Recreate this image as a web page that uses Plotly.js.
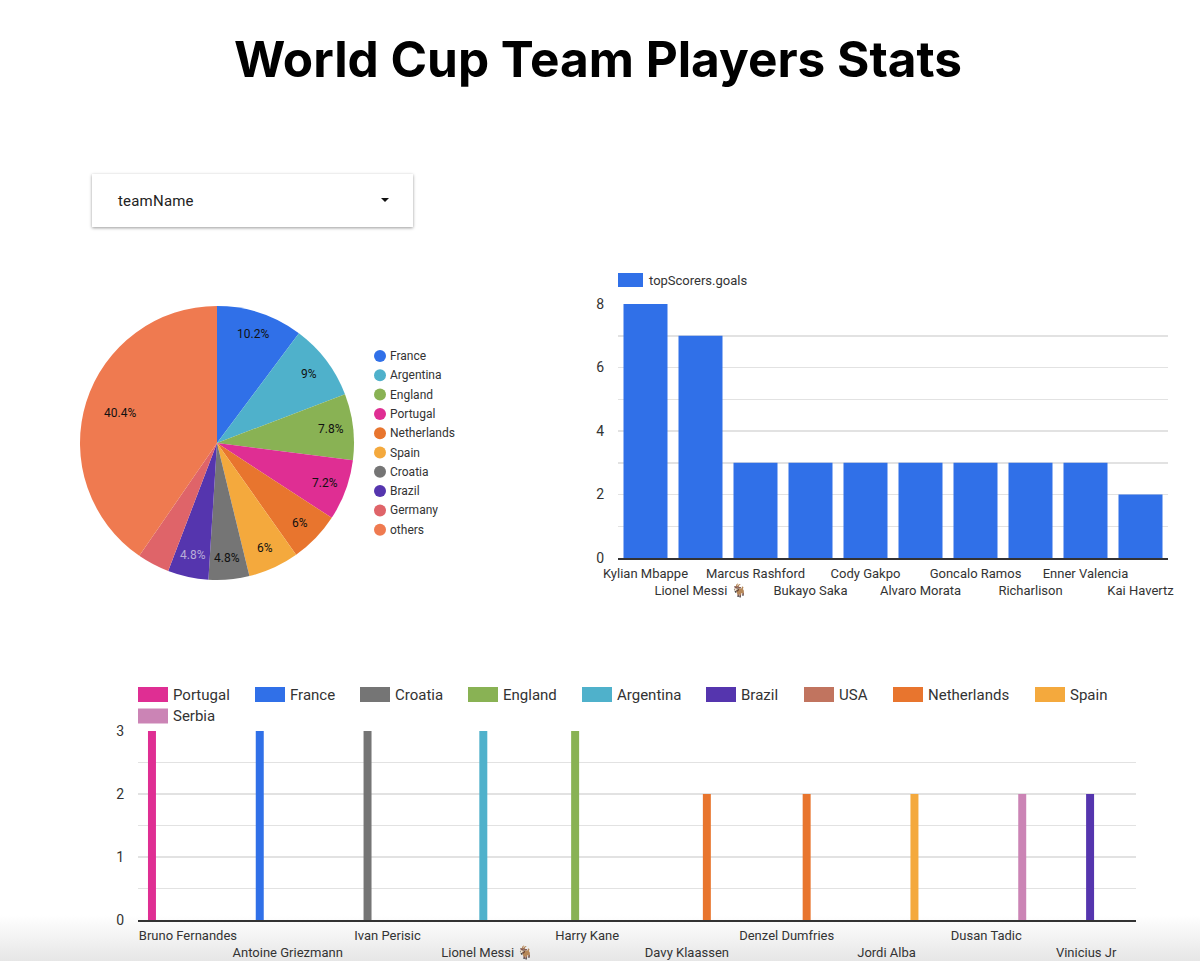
<!DOCTYPE html>
<html>
<head>
<meta charset="utf-8">
<title>World Cup Team Players Stats</title>
<script src="https://cdn.plot.ly/plotly-3.0.1.min.js"></script>
<style>
    html, body { margin: 0; padding: 0; }
    body {
        width: 1200px; height: 961px; overflow: hidden; position: relative;
        background: linear-gradient(to bottom, #ffffff 0, #ffffff 915px, #e6e6e6 961px);
    }
    #chart { position: absolute; left: 0; top: 0; width: 1200px; height: 961px; }
    #teamFilter {
        position: absolute; left: 92px; top: 174px; width: 321px; height: 53px;
        background: #fff; box-shadow: 0 1px 3px rgba(0,0,0,0.4);
        font: 15px Roboto, sans-serif; letter-spacing: 0.2px; color: #222; line-height: 55px; text-indent: 26px;
    }
    #teamFilter i {
        position: absolute; left: 289px; top: 24px; width: 0; height: 0;
        border-left: 4px solid transparent; border-right: 4px solid transparent; border-top: 4px solid #111;
    }
</style>
</head>
<body>
<div id="chart"></div>
<div id="teamFilter">teamName<i></i></div>
<script>
// Share of players per team (pie)
const pieTeams = ['France', 'Argentina', 'England', 'Portugal', 'Netherlands', 'Spain', 'Croatia', 'Brazil', 'Germany', 'others'];
const pieShares = [10.2, 9, 7.8, 7.2, 6, 6, 4.8, 4.8, 3.8, 40.4];
const pieColors = ['#3070e8', '#4fb1cb', '#89b254', '#df2e93', '#e8752e', '#f4a93d', '#757575', '#5535ae', '#df6469', '#ef7a50'];

// Top scorers (bar)
const scorers = ['Kylian Mbappe', 'Lionel Messi 🐐', 'Marcus Rashford', 'Bukayo Saka', 'Cody Gakpo', 'Alvaro Morata', 'Goncalo Ramos', 'Richarlison', 'Enner Valencia', 'Kai Havertz'];
const goals = [8, 7, 3, 3, 3, 3, 3, 3, 3, 2];

// Top assists, one series per team (grouped bars)
const assistPlayers = ['Bruno Fernandes', 'Antoine Griezmann', 'Ivan Perisic', 'Lionel Messi 🐐', 'Harry Kane', 'Davy Klaassen', 'Denzel Dumfries', 'Jordi Alba', 'Dusan Tadic', 'Vinicius Jr'];
const assistTeams = ['Portugal', 'France', 'Croatia', 'Argentina', 'England', 'Netherlands', 'Netherlands', 'Spain', 'Serbia', 'Brazil'];
const assists = [3, 3, 3, 3, 3, 2, 2, 2, 2, 2];
const seriesTeams = ['Portugal', 'France', 'Croatia', 'England', 'Argentina', 'Brazil', 'USA', 'Netherlands', 'Spain', 'Serbia'];
const seriesColors = ['#df2e93', '#3070e8', '#757575', '#89b254', '#4fb1cb', '#5535ae', '#c1745f', '#e8752e', '#f4a93d', '#cb84b5'];

const W = 1200, H = 961;
const FONT = 'Roboto, sans-serif';
const px = x => x / W;
const py = y => 1 - y / H;

// Tick labels alternate between two rows
function staggered(labels) {
    return labels.map((name, i) => i % 2 ? '<br>' + name : name);
}

const shapes = [];
const annotations = [];

function legendText(x, y, text, size) {
    annotations.push({
        xref: 'paper', yref: 'paper', x: px(x), y: py(y), text: text,
        xanchor: 'left', yanchor: 'middle', showarrow: false,
        font: { family: FONT, size: size, color: '#333' }
    });
}

function legendSwatch(x0, x1, y0, y1, color) {
    shapes.push({
        type: 'rect', xref: 'paper', yref: 'paper', layer: 'above',
        x0: px(x0), x1: px(x1), y0: py(y0), y1: py(y1),
        fillcolor: color, line: { width: 0 }
    });
}

// Pie legend: round dots in a column
pieTeams.forEach((team, i) => {
    const y = 356 + i * 19.3;
    shapes.push({
        type: 'circle', xref: 'paper', yref: 'paper',
        x0: px(374), x1: px(386), y0: py(y - 6), y1: py(y + 6),
        fillcolor: pieColors[i], line: { width: 0 }
    });
    legendText(388, y, team, 12);
});

// Pie percentages sit near the rim, the big slice a bit further in
const total = pieShares.reduce((a, b) => a + b, 0);
let running = 0;
pieShares.forEach((share, i) => {
    const angle = (running + share / 2) / total * 2 * Math.PI;
    running += share;
    if (share < 4) return; // Germany has no label
    const r = share > 20 ? 102 : 115;
    annotations.push({
        xref: 'paper', yref: 'paper',
        x: px(217 + r * Math.sin(angle)), y: py(443 - r * Math.cos(angle)),
        xanchor: 'center', yanchor: 'middle',
        text: share + '%', showarrow: false,
        font: { family: FONT, size: 12, color: pieTeams[i] === 'Brazil' ? '#b9add8' : '#111' }
    });
});

// Bar legend
legendSwatch(618, 643, 273, 287, '#3070e8');
legendText(647, 280, 'topScorers.goals', 13);

// Bottom legend, wraps after Spain
const legendStarts = [138, 255, 360, 468, 582, 706, 804, 893, 1035, 138];
seriesTeams.forEach((team, i) => {
    const y = i < 9 ? 694.5 : 716;
    legendSwatch(legendStarts[i], legendStarts[i] + 30, y - 7.5, y + 7.5, seriesColors[i]);
    legendText(legendStarts[i] + 33, y, team, 15);
});

const pieTrace = {
    type: 'pie',
    labels: pieTeams,
    values: pieShares,
    textinfo: 'none',
    marker: { colors: pieColors, line: { width: 0 } },
    sort: false,
    direction: 'clockwise',
    rotation: 0,
    showlegend: false,
    domain: { x: [px(80), px(354)], y: [py(580), py(306)] }
};

const goalsTrace = {
    type: 'bar',
    x: scorers,
    y: goals,
    xaxis: 'x',
    yaxis: 'y',
    marker: { color: '#3070e8' },
    showlegend: false
};

const assistTraces = seriesTeams.map((team, i) => ({
    type: 'bar',
    name: team,
    x: assistPlayers,
    y: assistPlayers.map((p, j) => assistTeams[j] === team ? assists[j] : null),
    xaxis: 'x2',
    yaxis: 'y2',
    marker: { color: seriesColors[i] },
    showlegend: false
}));

function categoryAxis(labels, domain, anchor) {
    return {
        domain: domain,
        anchor: anchor,
        type: 'category',
        tickmode: 'array',
        tickvals: labels,
        ticktext: staggered(labels),
        tickangle: 0,
        ticks: '',
        showgrid: false,
        showline: true,
        linecolor: '#333',
        linewidth: 1.5,
        zeroline: false,
        ticklabelstandoff: 3,
        tickfont: { family: FONT, size: 13, color: '#333' }
    };
}

function valueAxis(range, dtick, minorStep, domain, anchor) {
    return {
        domain: domain,
        anchor: anchor,
        range: range,
        dtick: dtick,
        tick0: 0,
        ticks: '',
        gridcolor: '#e2e2e2',
        gridwidth: 1.5,
        minor: { dtick: minorStep, showgrid: true, gridcolor: '#e2e2e2', gridwidth: 1.5, ticks: '' },
        zeroline: false,
        showline: false,
        ticklabelstandoff: 13,
        tickfont: { family: FONT, size: 14, color: '#333' }
    };
}

const layout = {
    width: W,
    height: H,
    margin: { l: 0, r: 0, t: 0, b: 0 },
    paper_bgcolor: 'rgba(0,0,0,0)',
    plot_bgcolor: 'rgba(0,0,0,0)',
    showlegend: false,
    title: {
        text: '<b>World Cup Team Players Stats</b>',
        x: 598 / W, xanchor: 'center',
        y: py(60), yanchor: 'middle',
        font: { family: 'Inter, sans-serif', size: 49.5, color: '#000' }
    },
    barmode: 'group',
    bargap: 0.2,
    bargroupgap: 0,
    xaxis: categoryAxis(scorers, [px(618), px(1168)], 'y'),
    yaxis: valueAxis([0, 8], 2, 1, [py(558), py(304)], 'x'),
    xaxis2: categoryAxis(assistPlayers, [px(138), px(1136)], 'y2'),
    yaxis2: valueAxis([0, 3], 1, 0.5, [py(920), py(731)], 'x2'),
    shapes: shapes,
    annotations: annotations
};

Plotly.newPlot('chart', [pieTrace, goalsTrace].concat(assistTraces), layout, { displayModeBar: false, staticPlot: true });
</script>
</body>
</html>
